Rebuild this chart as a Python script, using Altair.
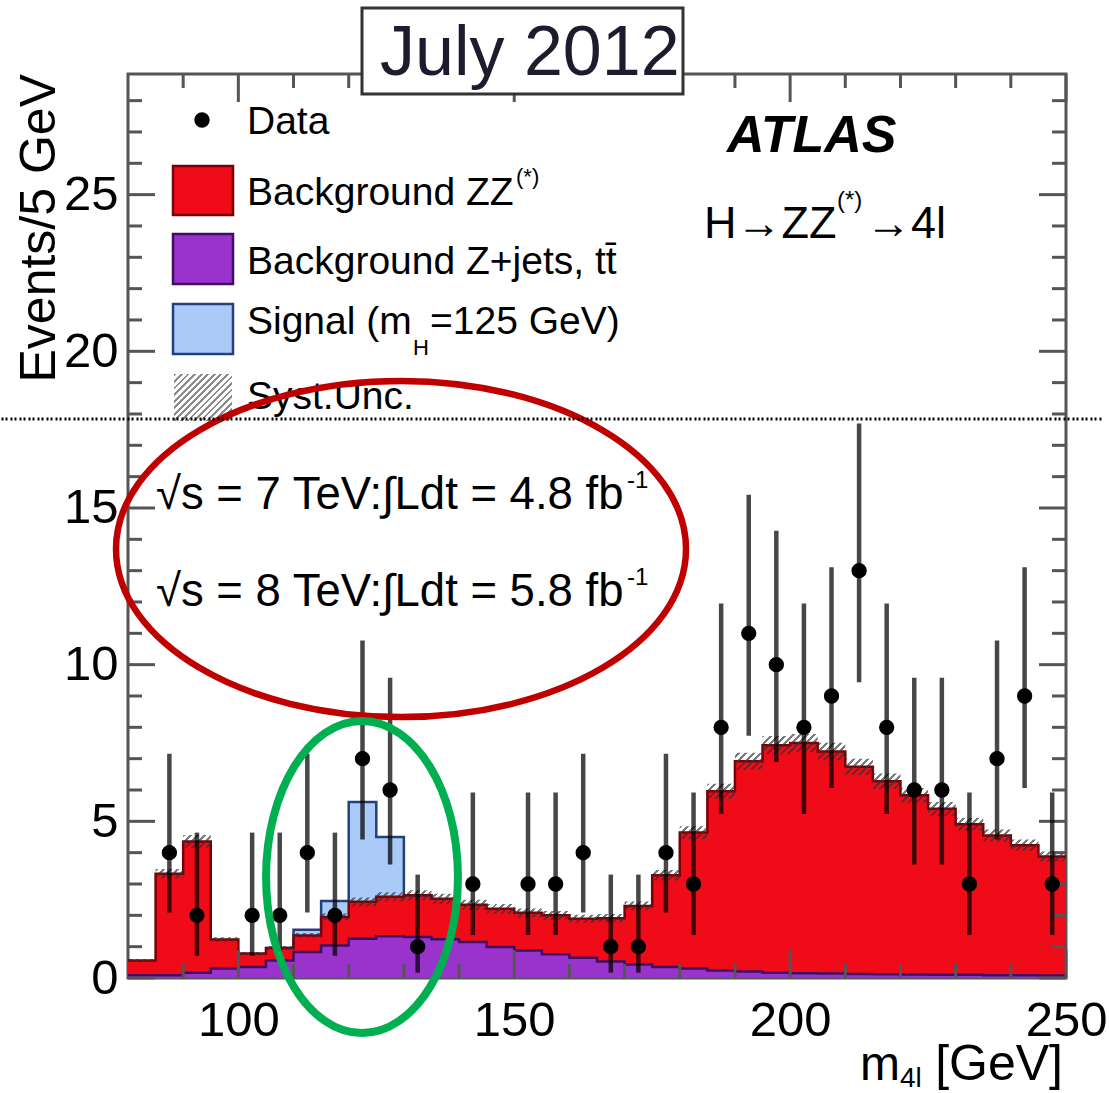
import altair as alt
import pandas as pd

# ---------------- data ----------------
bin_low = list(range(80, 250, 5))  # 5 GeV bins, 80..250
zjets_bkg = [0.09, 0.09, 0.17, 0.30, 0.35, 0.56, 0.83, 1.04, 1.25, 1.33, 1.31, 1.24,
             1.15, 0.99, 0.88, 0.76, 0.65, 0.53, 0.43, 0.35, 0.30, 0.24, 0.21, 0.17,
             0.15, 0.14, 0.13, 0.12, 0.11, 0.10, 0.10, 0.09, 0.09, 0.08]
zz_bkg = [0.47, 3.24, 4.19, 0.93, 0.43, 0.40, 0.53, 0.91, 1.18, 1.26, 1.33, 1.29,
          1.19, 1.22, 1.20, 1.24, 1.24, 1.38, 1.87, 2.93, 4.34, 5.72, 6.71, 7.26,
          7.35, 7.09, 6.61, 6.16, 5.72, 5.30, 4.81, 4.46, 4.15, 3.80]
signal_125 = [0, 0, 0, 0, 0, 0, 0.18, 0.51, 3.19, 1.91, 0, 0,
              0, 0, 0, 0, 0, 0, 0, 0, 0, 0, 0, 0,
              0, 0, 0, 0, 0, 0, 0, 0, 0, 0]
syst_unc = [0.05, 0.15, 0.20, 0.07, 0.05, 0.06, 0.08, 0.11, 0.14, 0.15, 0.16, 0.16,
            0.16, 0.15, 0.14, 0.14, 0.13, 0.13, 0.14, 0.17, 0.20, 0.24, 0.27, 0.29,
            0.29, 0.28, 0.26, 0.25, 0.23, 0.22, 0.20, 0.19, 0.18, 0.16]

data_mass = [87.5, 92.5, 102.5, 107.5, 112.5, 117.5, 122.5, 127.5, 132.5, 142.5,
             152.5, 157.5, 162.5, 167.5, 172.5, 177.5, 182.5, 187.5, 192.5, 197.5,
             202.5, 207.5, 212.5, 217.5, 222.5, 227.5, 232.5, 237.5, 242.5, 247.5]
data_events = [4, 2, 2, 2, 4, 2, 7, 6, 1, 3,
               3, 3, 4, 1, 1, 4, 3, 8, 11, 10,
               8, 9, 13, 8, 6, 6, 3, 7, 9, 3]
data_err_lo = [2.09, 0.71, 0.71, 0.71, 2.09, 0.71, 4.42, 3.62, 0.17, 1.37,
               1.37, 1.37, 2.09, 0.17, 0.17, 2.09, 1.37, 5.23, 7.73, 6.89,
               5.23, 6.06, 9.44, 5.23, 3.62, 3.62, 1.37, 4.42, 6.06, 1.37]
data_err_hi = [7.16, 4.64, 4.64, 4.64, 7.16, 4.64, 10.77, 9.58, 3.30, 5.92,
               5.92, 5.92, 7.16, 3.30, 3.30, 7.16, 5.92, 11.95, 15.42, 14.27,
               11.95, 13.11, 17.70, 11.95, 9.58, 9.58, 5.92, 10.77, 13.11, 5.92]

x_major_ticks = [100, 150, 200, 250]
x_minor_ticks = [90, 110, 120, 130, 140, 160, 170, 180, 190, 210, 220, 230, 240]
y_major_ticks = [0, 5, 10, 15, 20, 25]
y_minor_ticks = [1, 2, 3, 4, 6, 7, 8, 9, 11, 12, 13, 14, 16, 17, 18, 19, 21, 22, 23, 24, 26, 27, 28]

# ---------------- tables ----------------
def ext(a):
    return list(a) + [a[-1]]

bkg = [a + b for a, b in zip(zjets_bkg, zz_bkg)]
tot = [a + s for a, s in zip(bkg, signal_125)]
hist = pd.DataFrame({
    "m": bin_low + [250],
    "base": [0.0] * (len(bin_low) + 1),
    "zj": ext(zjets_bkg),
    "bkg": ext(bkg),
    "tot": ext(tot),
    "ulo": ext([b - s for b, s in zip(bkg, syst_unc)]),
    "uhi": ext([b + s for b, s in zip(bkg, syst_unc)]),
})
sig_df = hist[(hist["m"] >= 105) & (hist["m"] <= 135)]
pts = pd.DataFrame({"m": data_mass, "n": data_events, "lo": data_err_lo, "hi": data_err_hi})

# ---------------- style ----------------
FONT = "Liberation Sans"
W, H = 938, 904
YMAX = 28.85
FRAME = "#555555"
RED, RED_EDGE = "#EF0B17", "#7A0008"
PURPLE, PURPLE_EDGE = "#9933CC", "#3E0E66"
BLUE, BLUE_EDGE = "#AACBF8", "#24407C"

xs = alt.Scale(domain=[80, 250], nice=False, zero=False)
ys = alt.Scale(domain=[0, YMAX], nice=False, zero=True)
xaxis = alt.Axis(values=x_major_ticks, ticks=False, domain=False, grid=False, labelFont=FONT,
                 labelFontSize=49, labelColor="black", labelPadding=18, labelFlush=False,
                 labelOverlap=False, title=None, format="d")
yaxis = alt.Axis(values=y_major_ticks, ticks=False, domain=False, grid=False, labelFont=FONT,
                 labelFontSize=49, labelColor="black", labelPadding=10, labelFlush=False,
                 labelOverlap=False, title=None, format="d")


def X(f):
    return alt.X(f"{f}:Q", scale=xs, axis=xaxis)


def Y(f):
    return alt.Y(f"{f}:Q", scale=ys, axis=yaxis)


def hatch_fill(w, h, period, frac=0.42, color="rgba(40,40,40,0.75)"):
    r = h / w
    a = (1 + r) / (1 + r * r)
    n = max(1, int(round((w + h) / 2 ** 0.5 / period)))
    clear = "rgba(255,255,255,0)"
    stops = []
    for k in range(n):
        s0, s1, s2 = k / n, (k + frac) / n, (k + 1) / n
        stops += [alt.GradientStop(color=color, offset=round(s0, 6)),
                  alt.GradientStop(color=color, offset=round(s1, 6)),
                  alt.GradientStop(color=clear, offset=round(s1, 6)),
                  alt.GradientStop(color=clear, offset=round(s2, 6))]
    return alt.LinearGradient(gradient="linear", stops=stops, x1=0, y1=0, x2=a, y2=a * r)


one = pd.DataFrame({"k": [0]})


def txt(s, x, y, size, align="left", color="black", **kw):
    return alt.Chart(pd.DataFrame({"t": [s]})).mark_text(
        align=align, baseline="alphabetic", font=FONT, fontSize=size, color=color, **kw
    ).encode(x=alt.value(x), y=alt.value(y), text="t:N")


def box(x, x2, y, y2, **kw):
    return alt.Chart(one).mark_rect(**kw).encode(
        x=alt.value(x), x2=alt.value(x2), y=alt.value(y), y2=alt.value(y2))


def ellipse(cx, cy, rx, ry, size, color, sw):
    path = f"M-{rx},0A{rx},{ry},0,1,1,{rx},0A{rx},{ry},0,1,1,-{rx},0Z"
    return alt.Chart(one).mark_point(shape=path, size=size, filled=False, color=color,
                                     strokeWidth=sw, opacity=1).encode(
        x=alt.value(cx), y=alt.value(cy))


# ---------------- histogram layers ----------------
purple_area = alt.Chart(hist).mark_area(interpolate="step-after", fill=PURPLE, opacity=1).encode(
    x=X("m"), y=Y("zj"), y2=alt.Y2("base"))
red_area = alt.Chart(hist).mark_area(interpolate="step-after", fill=RED, opacity=1).encode(
    x=X("m"), y=Y("bkg"), y2=alt.Y2("zj"))
blue_area = alt.Chart(sig_df).mark_area(interpolate="step-after", fill=BLUE, opacity=1).encode(
    x=X("m"), y=Y("tot"), y2=alt.Y2("bkg"))
blue_line = alt.Chart(sig_df).mark_line(interpolate="step-after", color=BLUE_EDGE, strokeWidth=2.5).encode(
    x=X("m"), y=Y("tot"))
purple_line = alt.Chart(hist).mark_line(interpolate="step-after", color=PURPLE_EDGE, strokeWidth=2.5).encode(
    x=X("m"), y=Y("zj"))
red_line = alt.Chart(hist).mark_line(interpolate="step-after", color=RED_EDGE, strokeWidth=2.5).encode(
    x=X("m"), y=Y("bkg"))

band_h = (max(hist["uhi"]) - min(hist["ulo"])) * H / YMAX
hatch = alt.Chart(hist).mark_area(interpolate="step-after",
                                  fill=hatch_fill(W, band_h, 5.0, color="rgba(50,50,50,0.65)"),
                                  opacity=1).encode(
    x=X("m"), y=Y("uhi"), y2=alt.Y2("ulo"))

# ---------------- inward ticks ----------------
def tick_df(v):
    return pd.DataFrame({"v": v})

ticks = [
    alt.Chart(tick_df(x_major_ticks)).mark_rule(color=FRAME, strokeWidth=3).encode(
        x=X("v"), y=alt.value(H), y2=alt.value(H - 28)),
    alt.Chart(tick_df(x_minor_ticks)).mark_rule(color=FRAME, strokeWidth=3).encode(
        x=X("v"), y=alt.value(H), y2=alt.value(H - 14)),
    alt.Chart(tick_df(x_major_ticks)).mark_rule(color=FRAME, strokeWidth=3).encode(
        x=X("v"), y=alt.value(0), y2=alt.value(28)),
    alt.Chart(tick_df(x_minor_ticks)).mark_rule(color=FRAME, strokeWidth=3).encode(
        x=X("v"), y=alt.value(0), y2=alt.value(14)),
    alt.Chart(tick_df(y_major_ticks)).mark_rule(color=FRAME, strokeWidth=3).encode(
        y=Y("v"), x=alt.value(0), x2=alt.value(27)),
    alt.Chart(tick_df(y_minor_ticks)).mark_rule(color=FRAME, strokeWidth=3).encode(
        y=Y("v"), x=alt.value(0), x2=alt.value(14)),
    alt.Chart(tick_df(y_major_ticks)).mark_rule(color=FRAME, strokeWidth=3).encode(
        y=Y("v"), x=alt.value(W), x2=alt.value(W - 27)),
    alt.Chart(tick_df(y_minor_ticks)).mark_rule(color=FRAME, strokeWidth=3).encode(
        y=Y("v"), x=alt.value(W), x2=alt.value(W - 14)),
]

# ---------------- data points ----------------
err = alt.Chart(pts).mark_rule(color="black", opacity=0.72, strokeWidth=4.5).encode(
    x=X("m"), y=Y("lo"), y2=alt.Y2("hi"))
dots = alt.Chart(pts).mark_circle(size=235, color="black", opacity=1).encode(
    x=X("m"), y=Y("n"))

# ---------------- legend ----------------
legend = [
    alt.Chart(one).mark_circle(size=235, color="black", opacity=1).encode(
        x=alt.value(74), y=alt.value(46)),
    txt("Data", 119, 60, 39),
    box(45, 105, 92, 141, fill=RED, stroke=RED_EDGE, strokeWidth=2.5),
    txt("Background ZZ", 119, 131, 39),
    txt("(*)", 388, 110, 22),
    box(45, 105, 160, 210, fill=PURPLE, stroke=PURPLE_EDGE, strokeWidth=2.5),
    txt("Background Z+jets, tt\u0304", 119, 200, 39),
    box(45, 105, 230, 280, fill=BLUE, stroke=BLUE_EDGE, strokeWidth=2.5),
    txt("Signal (m", 119, 260, 39),
    txt("H", 285, 281, 22),
    txt("=125 GeV)", 302, 260, 39),
    box(46, 104, 300, 347, fill=hatch_fill(58, 47, 4.6, color="rgba(90,90,90,0.7)")),
    txt("Syst.Unc.", 119, 335, 39),
]

# ---------------- annotations ----------------
notes = [
    txt("ATLAS", 599, 78, 52, fontWeight="bold", fontStyle="italic"),
    txt("H\u2192ZZ", 576, 164, 45),
    txt("(*)", 709, 134, 24),
    txt("\u21924l", 738, 164, 45),
    txt("\u221as = 7 TeV:\u222bLdt = 4.8 fb", 28, 435, 45.5),
    txt("-1", 499, 414, 24),
    txt("\u221as = 8 TeV:\u222bLdt = 5.8 fb", 28, 532, 45.5),
    txt("-1", 499, 511, 24),
    txt("Events/5 GeV", -73, 0, 50, align="right", angle=270),
    txt("m", 732, 1006, 48),
    txt("4l", 772, 1013, 28),
    txt("[GeV]", 935, 1006, 50, align="right"),
]

marks_top = [
    ellipse(273, 475, 1, 0.5895, 570 ** 2, "#C00000", 6.5),
    ellipse(234, 803, 0.615, 1, 312 ** 2, "#00B050", 8),
    alt.Chart(one).mark_rule(color="black", strokeWidth=3, strokeDash=[2, 2, 2, 3]).encode(
        x=alt.value(-126.5), x2=alt.value(975), y=alt.value(345)),
    box(234, 555, -66, 20, fill="white", stroke="#333333", strokeWidth=3),
    txt("July 2012", 252, 1, 70, color="#1c1c2c"),
]

layers = ([purple_area, red_area, blue_area, blue_line, purple_line, red_line, hatch]
          + ticks + [err, dots] + legend + notes + marks_top)

chart = alt.layer(*layers).properties(
    width=W, height=H,
    padding={"left": 0, "top": 6, "right": 0, "bottom": 0},
    background="white",
).configure_view(stroke=FRAME, strokeWidth=3)

chart.save("out.html", embed_options={"renderer": "svg", "actions": False})
